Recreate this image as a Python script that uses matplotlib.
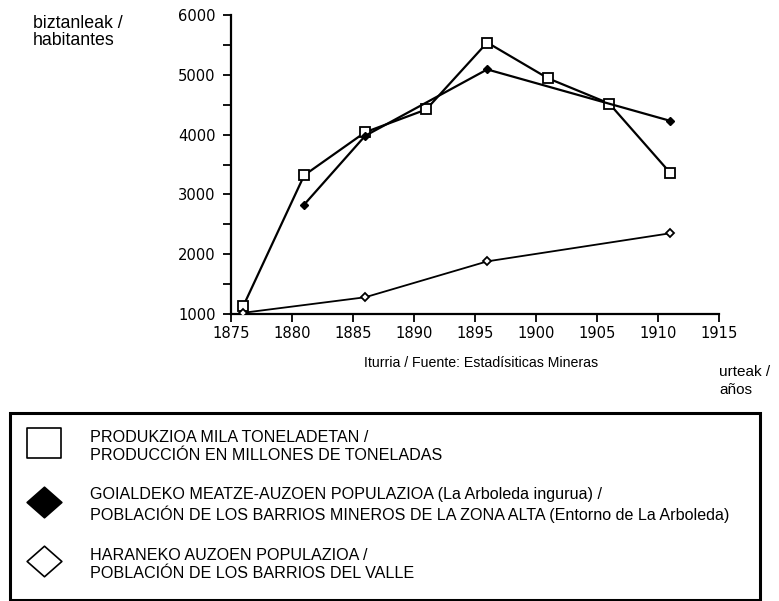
import matplotlib
matplotlib.use("Agg")
import matplotlib.pyplot as plt
from matplotlib.lines import Line2D
from matplotlib.patches import Rectangle
from matplotlib.path import Path

# ---- data ----
years_prod = [1876, 1881, 1886, 1891, 1896, 1901, 1906, 1911]
production = [1130, 3320, 4040, 4420, 5540, 4940, 4520, 3360]

years_upper = [1881, 1886, 1896, 1911]
upper_pop = [2830, 3980, 5090, 4230]

years_valley = [1876, 1886, 1896, 1911]
valley_pop = [1020, 1280, 1880, 2350]

x_ticks = [1875, 1880, 1885, 1890, 1895, 1900, 1905, 1910, 1915]
y_ticks = [1000, 2000, 3000, 4000, 5000, 6000]

legend_labels = [
    "PRODUKZIOA MILA TONELADETAN /\nPRODUCCIÓN EN MILLONES DE TONELADAS",
    "GOIALDEKO MEATZE-AUZOEN POPULAZIOA (La Arboleda ingurua) /\nPOBLACIÓN DE LOS BARRIOS MINEROS DE LA ZONA ALTA (Entorno de La Arboleda)",
    "HARANEKO AUZOEN POPULAZIOA /\nPOBLACIÓN DE LOS BARRIOS DEL VALLE",
]

W, H = 779, 601
fig = plt.figure(figsize=(W / 100, H / 100), dpi=100)
ax = fig.add_axes([231 / W, 1 - 314 / H, (719 - 231) / W, (314 - 15) / H])

lw = 1.6
ax.plot(years_prod, production, color="black", lw=lw, marker="s", ms=6.5,
        mfc="white", mec="black", mew=1.3, zorder=3)
ax.plot(years_upper, upper_pop, color="black", lw=lw, marker="D", ms=4.5,
        mfc="black", mec="black", zorder=3)
ax.plot(years_valley, valley_pop, color="black", lw=1.3, marker="D", ms=4.5,
        mfc="white", mec="black", mew=1.3, zorder=3)

ax.set_xlim(1875, 1915)
ax.set_ylim(1000, 6000)
ax.set_xticks(x_ticks)
ax.set_yticks(y_ticks)
ax.set_yticks([1500, 2500, 3500, 4500, 5500], minor=True)
for s in ["top", "right"]:
    ax.spines[s].set_visible(False)
for s in ["left", "bottom"]:
    ax.spines[s].set_linewidth(1.6)
ax.tick_params(axis="both", which="both", direction="out", length=6, width=1.3,
               labelsize=10.6)
ax.tick_params(axis="y", pad=5)
ax.tick_params(axis="x", pad=3)
ax.set_facecolor("none")

fnt = "Liberation Sans"
fig.text(33 / W, 1 - 15 / H, "biztanleak /\nhabitantes", family=fnt, fontsize=12.8,
         ha="left", va="top", linespacing=1.0)
fig.text(364 / W, 1 - 363 / H, "Iturria / Fuente: Estadísiticas Mineras",
         family=fnt, fontsize=10.2, ha="left", va="center")
fig.text(719 / W, 1 - 365 / H, "urteak /\naños", family=fnt, fontsize=11,
         ha="left", va="top", linespacing=1.35)

# ---- legend box ----
fig.add_artist(Rectangle((10 / W, 1 - 600 / H), (760 - 10) / W, (600 - 413) / H,
                         transform=fig.transFigure, fill=False, ec="black", lw=2.2))
rect_marker = Path([(-1, -0.88), (1, -0.88), (1, 0.88), (-1, 0.88), (-1, -0.88)],
                   [Path.MOVETO, Path.LINETO, Path.LINETO, Path.LINETO, Path.CLOSEPOLY])
diam_marker = Path([(0, 0.88), (1, 0), (0, -0.88), (-1, 0), (0, 0.88)],
                   [Path.MOVETO, Path.LINETO, Path.LINETO, Path.LINETO, Path.CLOSEPOLY])
mk_x = 44 / W
centers = [443, 502, 561]
styles = [dict(marker=rect_marker, ms=24, mfc="white", mec="black", mew=1.2),
          dict(marker=diam_marker, ms=25, mfc="black", mec="black", mew=1.2),
          dict(marker=diam_marker, ms=25, mfc="white", mec="black", mew=1.2)]
for cy, st, lab in zip(centers, styles, legend_labels):
    fig.add_artist(Line2D([mk_x], [1 - cy / H], transform=fig.transFigure,
                          linestyle="none", **st))
    fig.text(90 / W, 1 - (cy + 3) / H, lab, family=fnt, fontsize=11.6,
             ha="left", va="center", linespacing=1.25)

fig.savefig("out.png", dpi=100)
